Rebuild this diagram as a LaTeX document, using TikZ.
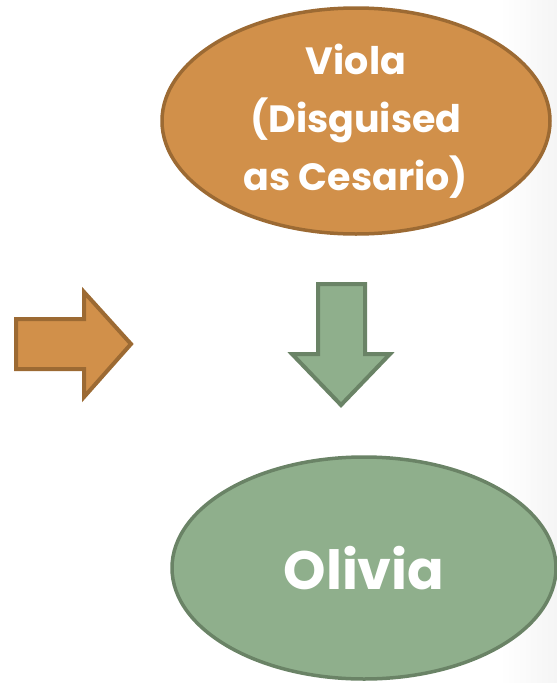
\documentclass[tikz,border=0pt]{standalone}
\usepackage{fontspec}
\setmainfont{Poppins}[BoldFont={* Bold}]
\usetikzlibrary{shapes.geometric}
\definecolor{ofill}{HTML}{D1904A}
\definecolor{oedge}{HTML}{9C6A33}
\definecolor{gfill}{HTML}{8FAF8C}
\definecolor{gedge}{HTML}{6A8366}
\begin{document}
\begin{tikzpicture}[x=1pt,y=-1pt,
  oval/.style={ellipse,line width=3.5pt,inner sep=0pt,text=white,font=\bfseries,align=center},
  bigarrow/.style={line width=4pt,line join=miter}]
\useasboundingbox (0,0) rectangle (557,683);
\shade[left color=white,right color=black!4] (500,0) rectangle (557,683);
\node[oval,draw=oedge,fill=ofill,minimum width=388pt,minimum height=226pt,
  font=\bfseries\fontsize{38}{58}\selectfont] (viola) at (356,121)
  {Viola\\(Disguised\\as Cesario)};
\node[oval,draw=gedge,fill=gfill,minimum width=384pt,minimum height=222pt,
  font=\bfseries\fontsize{54}{60}\selectfont] (olivia) at (364,568) {Olivia};
\draw[bigarrow,draw=oedge,fill=ofill] (16,319) -- (84,319) -- (84,292) -- (131,344)
  -- (84,397) -- (84,369) -- (16,369) -- cycle;
\draw[bigarrow,draw=gedge,fill=gfill] (318,284) -- (365,284) -- (365,354) -- (390,354)
  -- (341,405) -- (292,354) -- (318,354) -- cycle;
\end{tikzpicture}
\end{document}
